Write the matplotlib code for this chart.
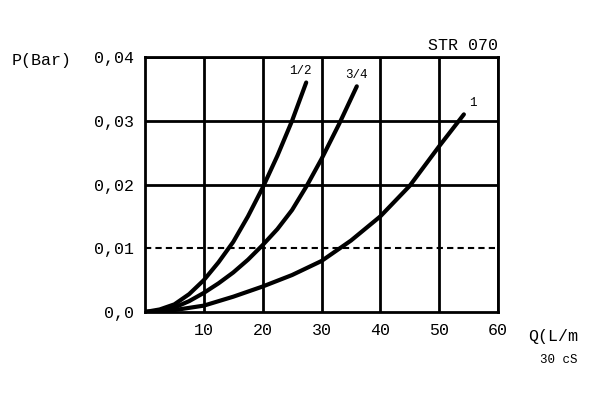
import matplotlib
matplotlib.use("Agg")
import matplotlib.pyplot as plt

x_half = [0, 2.5, 5, 7.5, 10, 12.5, 15, 17.5, 20, 22.5, 25, 27.4]
y_half = [0, 0.0004, 0.0012, 0.0028, 0.005, 0.0078, 0.011, 0.015, 0.0195, 0.0245, 0.030, 0.036]
x_34 = [0, 2.5, 5, 7.5, 10, 12.5, 15, 17.5, 20, 22.5, 25, 27.5, 30, 33, 36]
y_34 = [0, 0.0002, 0.0007, 0.0017, 0.003, 0.0045, 0.0062, 0.0082, 0.0105, 0.013, 0.016, 0.0198, 0.024, 0.0295, 0.0354]
x_1 = [0, 5, 10, 15, 20, 25, 30, 35, 40, 45, 50, 54.2]
y_1 = [0, 0.0003, 0.001, 0.0024, 0.004, 0.0058, 0.008, 0.0112, 0.015, 0.0198, 0.026, 0.031]
xticks = [10, 20, 30, 40, 50, 60]
yticks = [0.0, 0.01, 0.02, 0.03, 0.04]
ylabels = ["0,0", "0,01", "0,02", "0,03", "0,04"]

plt.rcParams['font.family'] = ['Liberation Mono', 'DejaVu Sans Mono']
fig = plt.figure(figsize=(6, 4), dpi=100)
ax = fig.add_axes([145/600, 1-312/400, 353/600, 255/400])
ax.set_xlim(0, 60)
ax.set_ylim(0, 0.04)
for xv in xticks:
    ax.axvline(xv, color='black', lw=2)
for yv in [0.02, 0.03, 0.04]:
    ax.axhline(yv, color='black', lw=2)
ax.axhline(0.01, color='black', lw=1.5, ls=(0, (3, 2)))
for s in ax.spines.values():
    s.set_linewidth(2)
for xs, ys, lab, dx, dy in [(x_half, y_half, "1/2", -1, 0.0008),
                            (x_34, y_34, "3/4", 0, 0.0008),
                            (x_1, y_1, "1", 1.5, 0.0008)]:
    ax.plot(xs, ys, color='black', lw=3, solid_capstyle='round')
    ax.text(xs[-1] + dx, ys[-1] + dy, lab, fontsize=9, ha='center', va='bottom')
ax.set_xticks(xticks)
ax.set_yticks(yticks)
ax.set_yticklabels(ylabels)
ax.tick_params(length=0, labelsize=12, pad=8)
fig.text(12/600, 1-60/400, "P(Bar)", fontsize=12, va='center')
fig.text(498/600, 1-46/400, "STR 070", fontsize=12, ha='right', va='center')
fig.text(528/600, 1-336/400, "Q(L/m", fontsize=12, va='center')
fig.text(540/600, 1-360/400, "30 cS", fontsize=9, va='center')
fig.savefig("out.png", dpi=100)
